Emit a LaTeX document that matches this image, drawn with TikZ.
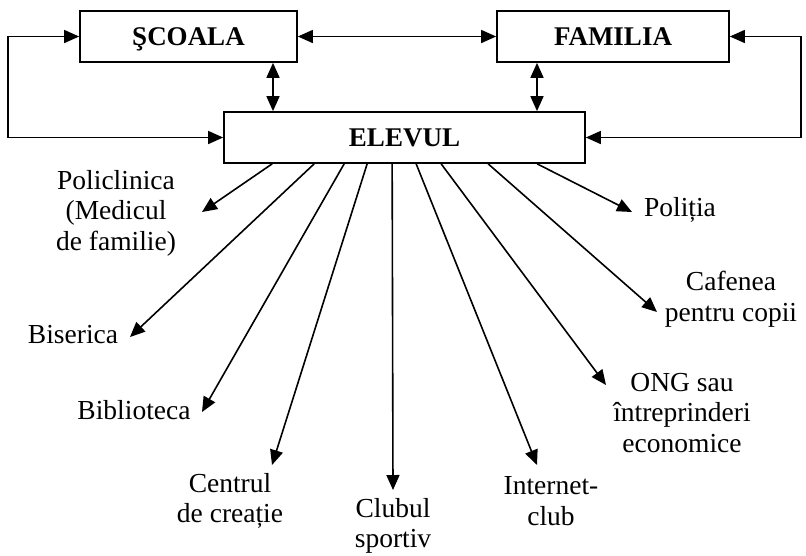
\documentclass[tikz,border=0pt]{standalone}
\usepackage{fontspec}
\setmainfont{Liberation Serif}
\usetikzlibrary{arrows.meta,calc}
\begin{document}
\begin{tikzpicture}[x=1pt,y=-1pt,
  box/.style={draw,line width=1.7pt,minimum height=51pt,inner sep=0pt,
    text height=18pt,text depth=0pt,
    font=\fontsize{27}{30}\selectfont\bfseries},
  lbl/.style={align=center,inner sep=0pt,font=\fontsize{27.5}{30.5}\selectfont},
  tip/.style={Triangle[length=15pt,width=13pt]},
  conn/.style={line width=1.6pt,-{Triangle[length=15pt,width=13pt]}},
  dbl/.style={line width=1.6pt,{Triangle[length=15pt,width=13pt]}-{Triangle[length=15pt,width=13pt]}}]
\useasboundingbox (0,0) rectangle (806,555);

% the three institutions
\node[box,minimum width=217pt] (scoala) at (188.5,36.5) {ŞCOALA};
\node[box,minimum width=232pt] (familia) at (613,36.5) {FAMILIA};
\node[box,minimum width=361pt] (elevul) at (404.5,137.5) {ELEVUL};

% links between them
\coordinate (lx) at (8,0);
\coordinate (rx) at (801,0);
\draw[dbl] (scoala.east) -- (familia.west);
\draw[dbl] ([xshift=84.5pt]scoala.south) -- ([xshift=84.5pt]scoala.south |- elevul.north);
\draw[dbl] ([xshift=-76pt]familia.south) -- ([xshift=-76pt]familia.south |- elevul.north);
\draw[dbl] (scoala.west) -- (scoala.west -| lx) -- (elevul.west -| lx) -- (elevul.west);
\draw[dbl] (familia.east) -- (familia.east -| rx) -- (elevul.east -| rx) -- (elevul.east);

% other places in the pupil's life
\node[lbl] (pol) at (116,213) {Policlinica\\(Medicul\\de familie)};
\node[lbl] (bis) at (73,335) {Biserica};
\node[lbl] (bib) at (134,410) {Biblioteca};
\node[lbl] (cen) at (230,501) {Centrul\\de creație};
\node[lbl] (clu) at (393,526) {Clubul\\sportiv};
\node[lbl] (int) at (551,501) {Internet-\\club};
\node[lbl] (ong) at (682,413) {ONG sau\\întreprinderi\\economice};
\node[lbl] (caf) at (731,299) {Cafenea\\pentru copii};
\node[lbl] (plt) at (680,210) {Poliția};

% arrow tips beside each label
\coordinate (tpol) at (202,212);
\coordinate (tbis) at (130,337);
\coordinate (tbib) at (202,412);
\coordinate (tcen) at (272,465);
\coordinate (tclu) at (393,490);
\coordinate (tint) at (537,465);
\coordinate (tong) at (606,385);
\coordinate (tcaf) at (657,312);
\coordinate (tplt) at (632,212);

\draw[conn] ([xshift=49pt]elevul.south west) -- (tpol);
\draw[conn] ([xshift=91pt]elevul.south west) -- (tbis);
\draw[conn] ([xshift=121pt]elevul.south west) -- (tbib);
\draw[conn] ([xshift=144pt]elevul.south west) -- (tcen);
\draw[conn] ([xshift=169pt]elevul.south west) -- (tclu);
\draw[conn] ([xshift=193pt]elevul.south west) -- (tint);
\draw[conn] ([xshift=218pt]elevul.south west) -- (tong);
\draw[conn] ([xshift=265pt]elevul.south west) -- (tcaf);
\draw[conn] ([xshift=314pt]elevul.south west) -- (tplt);
\end{tikzpicture}
\end{document}
